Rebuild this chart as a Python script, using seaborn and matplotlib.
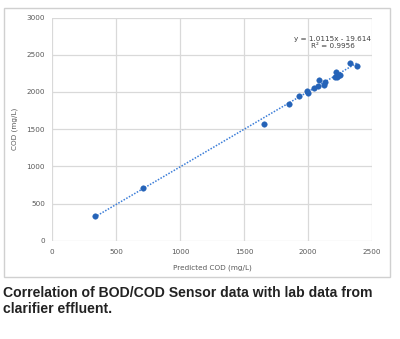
import matplotlib
matplotlib.use("Agg")
import matplotlib.pyplot as plt
import seaborn as sns
import numpy as np
import pandas as pd
from matplotlib.patches import Rectangle
from matplotlib import font_manager

# Data
predicted_cod = [333, 713, 1656, 1852, 1930, 1990, 1997, 2047, 2078, 2088,
                 2127, 2133, 2211, 2216, 2229, 2245, 2250, 2326, 2380]
measured_cod = [327, 706, 1564, 1842, 1950, 2010, 1993, 2050, 2075, 2160,
                2096, 2131, 2208, 2270, 2203, 2235, 2230, 2395, 2355]
slope = 1.0115
intercept = -19.614
r_squared = 0.9956
x_ticks = [0, 500, 1000, 1500, 2000, 2500]
y_ticks = [0, 500, 1000, 1500, 2000, 2500, 3000]
caption = "Correlation of BOD/COD Sensor data with lab data from\nclarifier effluent."

sns.set_theme(style="white")
plt.rcParams['font.family'] = ['DejaVu Sans']

fig = plt.figure(figsize=(4.0, 3.39), dpi=100)
ax = fig.add_axes([0.13, 0.29, 0.80, 0.658])

df = pd.DataFrame({"pred": predicted_cod, "cod": measured_cod})
blue = "#2563b8"

# trendline
xs = np.array([min(predicted_cod), max(predicted_cod)])
trend = pd.DataFrame({"x": xs, "y": slope * xs + intercept})
sns.lineplot(data=trend, x="x", y="y", ax=ax, color="#3b7dd8", lw=1.1,
             linestyle=(0, (1, 1)), zorder=3)
sns.scatterplot(data=df, x="pred", y="cod", ax=ax, color=blue, s=16,
                edgecolor=blue, linewidth=0.3, zorder=4)

ax.set_xlim(0, 2500)
ax.set_ylim(0, 3000)
ax.set_xticks(x_ticks)
ax.set_yticks(y_ticks)
ax.grid(True, color="#d9d9d9", lw=0.9)
for s in ax.spines.values():
    s.set_visible(False)
ax.tick_params(axis="x", length=0, labelsize=5.2, labelcolor="#595959", pad=6)
ax.tick_params(axis="y", length=0, labelsize=5.2, labelcolor="#595959", pad=5)
ax.set_xlabel("Predicted COD (mg/L)", fontsize=5.2, color="#595959", labelpad=7)
ax.set_ylabel("COD (mg/L)", fontsize=5.2, color="#595959", labelpad=6)

ax.text(2195, 2670, f"y = {slope}x - {abs(intercept)}\nR² = {r_squared}",
        ha="center", va="center", fontsize=5.2, color="#404040",
        linespacing=1.2, zorder=5)

# outer chart frame
fig.patches.append(Rectangle((4 / 400, 1 - 277 / 339), 386 / 400, 269 / 339,
                             transform=fig.transFigure, fill=False,
                             edgecolor="#d0d0d0", lw=1.0))

# caption: choose a narrow bold family if available
avail = {f.name for f in font_manager.fontManager.ttflist}
fam = ["Liberation Sans Narrow", "Liberation Sans", "DejaVu Sans"]
fam = [f for f in fam if f in avail] or ["DejaVu Sans"]
cap = fig.text(0.0075, 1 - 301 / 339, caption,
               ha="left", va="center", fontsize=9.3, fontweight="bold",
               family=fam, color="#222222", linespacing=1.1)
# fit first line width to ~367 px as in the reference
fig.canvas.draw()
r = fig.canvas.get_renderer()
w = cap.get_window_extent(r).width
if w > 0:
    cap.set_fontsize(9.3 * 367 / w)

fig.savefig("out.png", dpi=100)
